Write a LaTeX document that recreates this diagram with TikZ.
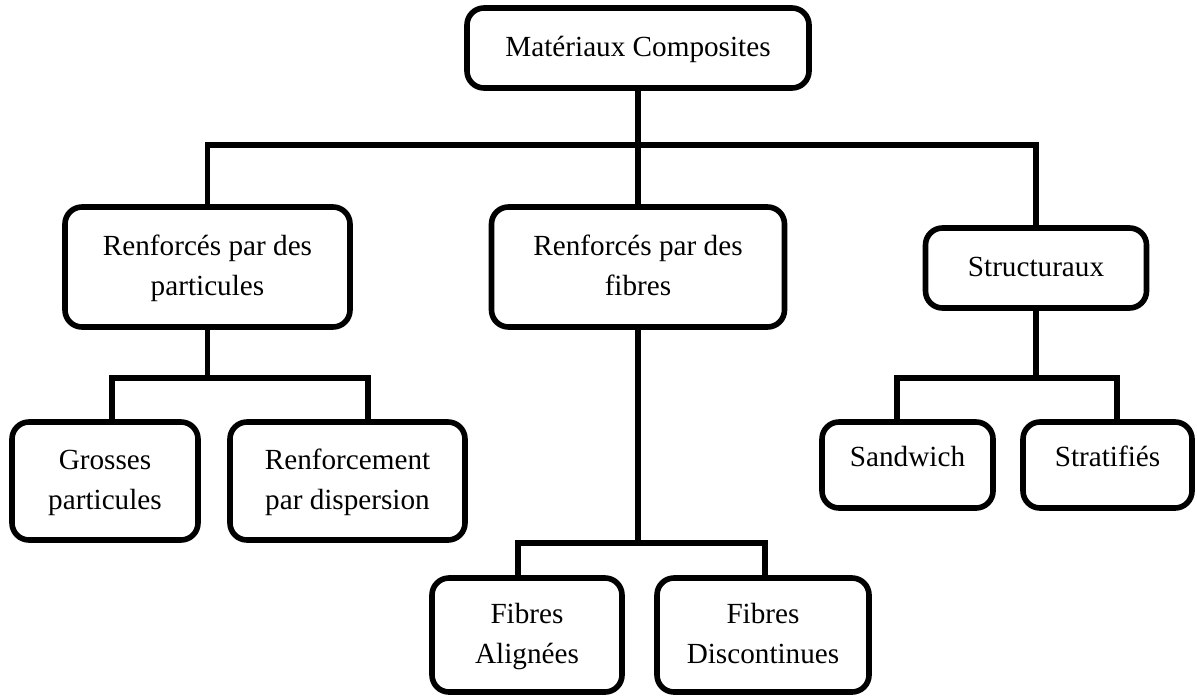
\documentclass[tikz,border=0pt]{standalone}
\usepackage{fontspec}
\setmainfont{Liberation Serif}

\tikzset{
    boite/.style={draw, line width=2.8pt, rounded corners=8.5pt, align=center,
        inner sep=0pt, font=\fontsize{14.6}{20}\selectfont},
    lien/.style={line width=2.8pt}
}

\begin{document}
\begin{tikzpicture}[x=0.5pt, y=-0.5pt]
    \useasboundingbox (0,0) rectangle (1197,696);

    \node[boite, minimum width=171pt, minimum height=40pt] (mat) at (638,48) {Matériaux Composites\strut};

    \node[boite, minimum width=142.5pt, minimum height=60pt] (parti) at (207.5,267) {Renforcés par des\strut\\particules\strut};
    \node[boite, minimum width=146.5pt, minimum height=60pt] (fib) at (638,267) {Renforcés par des\strut\\fibres\strut};
    \node[boite, minimum width=110.5pt, minimum height=40pt] (struct) at (1036,268) {Structuraux\strut};

    \node[boite, minimum width=93pt, minimum height=59pt] (gros) at (105,481) {Grosses\strut\\particules\strut};
    \node[boite, minimum width=117.5pt, minimum height=59pt] (disp) at (347.5,481) {Renforcement\strut\\par dispersion\strut};

    \node[boite, minimum width=95pt, minimum height=57pt] (align) at (527,635) {Fibres\strut\\Alignées\strut};
    \node[boite, minimum width=106pt, minimum height=57pt] (disc) at (763,635) {Fibres\strut\\Discontinues\strut};

    \node[boite, minimum width=85.5pt, minimum height=43pt] (sand) at (907.5,465) {Sandwich\strut\\[-7pt]};
    \node[boite, minimum width=84.5pt, minimum height=43pt] (strat) at (1107.5,465) {Stratifiés\strut\\[-7pt]};

    \draw[lien] (mat.south) -- (fib.north);
    \coordinate (bus) at (638,145);
    \draw[lien] (parti.north) |- (bus) -| (struct.north);

    \draw[lien] (parti.south) -- ++(0,48) coordinate (jp);
    \draw[lien] ([xshift=3.5pt]gros.north) |- (jp) -| ([xshift=10.25pt]disp.north);

    \draw[lien] (fib.south) -- ++(0,213) coordinate (jf);
    \draw[lien] ([xshift=-4.5pt]align.north) |- (jf) -| ([xshift=1pt]disc.north);

    \draw[lien] (struct.south) -- ++(0,67) coordinate (js);
    \draw[lien] ([xshift=-5.25pt]sand.north) |- (js) -| ([xshift=4.75pt]strat.north);
\end{tikzpicture}
\end{document}
